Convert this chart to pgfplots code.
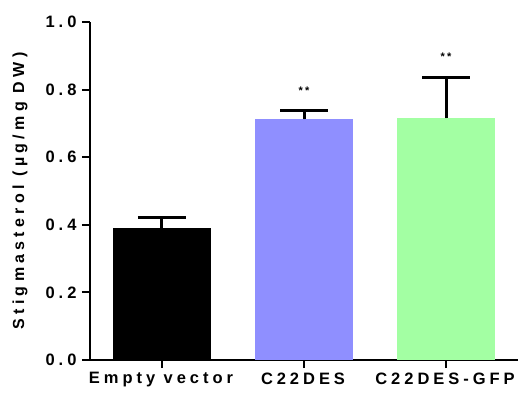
\documentclass[border=0pt]{standalone}
\usepackage{pgfplots}
\pgfplotsset{compat=1.18}
\usepackage{fontspec}
\setmainfont{Liberation Sans}
\definecolor{barblue}{RGB}{143,143,255}
\definecolor{bargreen}{RGB}{163,255,163}
\newcommand{\lspc}{\addfontfeature{LetterSpace=24}}
\begin{document}
\begin{tikzpicture}
\path (-90pt,-34pt) rectangle (431pt,360pt);
\begin{axis}[
  at={(0,0)}, anchor=south west,
  scale only axis,
  width=428pt, height=338pt,
  xmin=-0.507, xmax=2.507,
  ymin=0, ymax=1.0,
  axis x line=bottom, axis y line=left,
  axis line style={-, line width=2pt},
  xtick={0,1,2},
  xticklabels={Empty vector, C22DES, C22DES-GFP},
  ytick={0,0.2,0.4,0.6,0.8,1.0},
  yticklabel style={/pgf/number format/fixed, /pgf/number format/fixed zerofill, /pgf/number format/precision=1, xshift=-2pt},
  /pgf/number format/assume math mode=true,
  xtick pos=bottom, ytick pos=left,
  major tick style={line width=2pt, black},
  tick align=outside,
  major tick length=8pt,
  ticklabel style={font=\fontsize{16.5}{18}\selectfont\bfseries\lspc},
  xticklabel style={yshift=-1pt, xshift=-1pt},
  ylabel={Stigmasterol (µg/mg DW)},
  ylabel style={font=\fontsize{16}{18}\selectfont\bfseries\addfontfeature{LetterSpace=27}, at={(axis description cs:-0.1636,0.5)}, anchor=center},
  clip=false,
  ybar, bar width=0.69, bar shift=0pt,
]
\addplot[fill=black, draw=none,
  error bars/.cd, y dir=plus, y explicit,
  error bar style={line width=3pt, black},
  error mark options={rotate=90, mark size=24pt, line width=3pt, black}]
  coordinates {(0,0.391) +- (0,0.031)};
\addplot[fill=barblue, draw=none,
  error bars/.cd, y dir=plus, y explicit,
  error bar style={line width=3pt, black},
  error mark options={rotate=90, mark size=24pt, line width=3pt, black}]
  coordinates {(1,0.712) +- (0,0.025)};
\addplot[fill=bargreen, draw=none,
  error bars/.cd, y dir=plus, y explicit,
  error bar style={line width=3pt, black},
  error mark options={rotate=90, mark size=24pt, line width=3pt, black}]
  coordinates {(2,0.715) +- (0,0.122)};
\node[font=\fontsize{11}{12}\selectfont\bfseries\addfontfeature{LetterSpace=20}] at (axis cs:1,0.797) {**};
\node[font=\fontsize{11}{12}\selectfont\bfseries\addfontfeature{LetterSpace=20}] at (axis cs:2,0.897) {**};
\end{axis}
\end{tikzpicture}
\end{document}
